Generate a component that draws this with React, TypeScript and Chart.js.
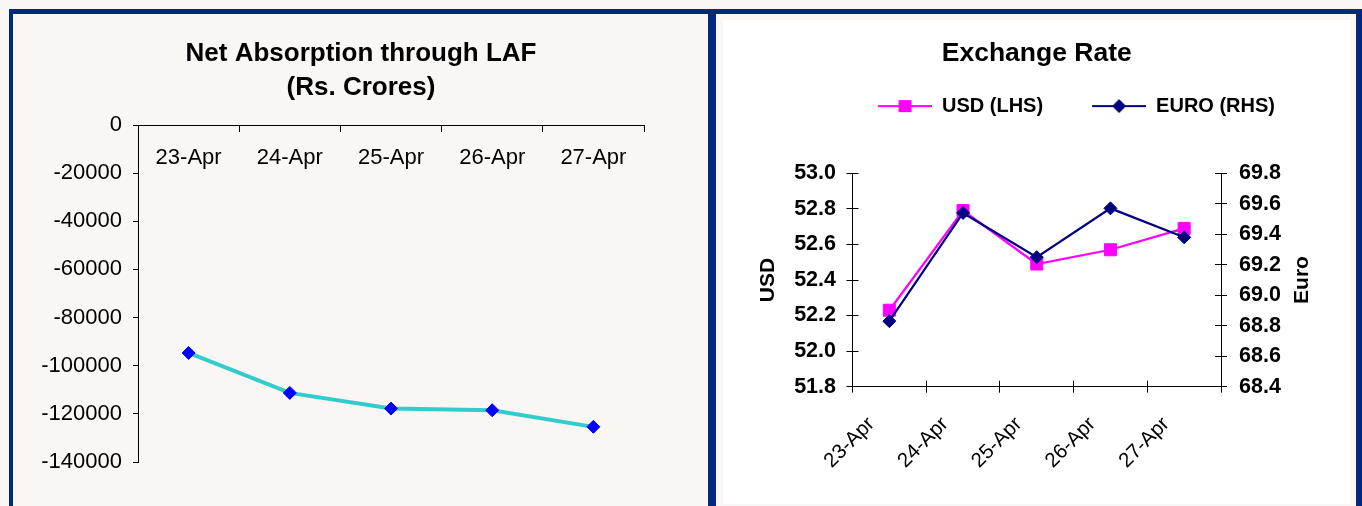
import React, { useEffect, useRef } from 'react';
import { Chart, registerables } from 'chart.js';

Chart.register(...registerables);

// ---------- data ----------
const dates = ['23-Apr', '24-Apr', '25-Apr', '26-Apr', '27-Apr'];
const lafValues = [-94700, -111300, -117800, -118500, -125400];
const lafTicks = [-140000, -120000, -100000, -80000, -60000, -40000, -20000, 0];
const usdValues = [52.23, 52.79, 52.49, 52.57, 52.69];
const euroValues = [68.83, 69.54, 69.25, 69.57, 69.38];
const usdTicks = [51.8, 52.0, 52.2, 52.4, 52.6, 52.8, 53.0];
const euroTicks = [68.4, 68.6, 68.8, 69.0, 69.2, 69.4, 69.6, 69.8];
const lafTitle = ['Net Absorption through LAF', '(Rs. Crores)'];
const fxTitle = 'Exchange Rate';
const usdLabel = 'USD (LHS)';
const euroLabel = 'EURO (RHS)';
const usdAxisTitle = 'USD';
const euroAxisTitle = 'Euro';

// ---------- styles ----------
const FAMILY = "'Liberation Sans', Arial, Helvetica, sans-serif";
const NAVY_FRAME = '#00287c';
const PAGE_BG = '#f9f6f3';
const LAF_LINE = '#33CCCC';
const LAF_MARK = '#0000FF';
const USD_COLOR = '#FF00FF';
const EURO_COLOR = '#000080';

function makeIcon(color: string, marker: 'square' | 'diamond'): HTMLCanvasElement {
  const c = document.createElement('canvas');
  c.width = 93;
  c.height = 16;
  const g = c.getContext('2d')!;
  g.strokeStyle = color;
  g.lineWidth = 2;
  g.beginPath();
  g.moveTo(39, 8);
  g.lineTo(93, 8);
  g.stroke();
  g.fillStyle = color;
  const cx = 66;
  if (marker === 'square') {
    g.fillRect(cx - 6.5, 2, 13, 12);
  } else {
    g.beginPath();
    g.moveTo(cx - 7, 8);
    g.lineTo(cx, 1);
    g.lineTo(cx + 7, 8);
    g.lineTo(cx, 15);
    g.closePath();
    g.fill();
  }
  return c;
}

const overlayPlugin = {
  id: 'overlayTicks',
  afterLayout(chart: any) {
    const a = chart.chartArea;
    const s = chart.scales;
    if (s.yIn) { s.yIn.left = a.left; s.yIn.right = a.left; }
    if (s.y2In) { s.y2In.left = a.right; s.y2In.right = a.right; }
    if (s.xIn) { s.xIn.top = a.bottom; s.xIn.bottom = a.bottom; }
  },
};

const axisTitlesPlugin = {
  id: 'axisTitles',
  afterDraw(chart: any) {
    const { ctx, chartArea: a } = chart;
    const cy = (a.top + a.bottom) / 2;
    const items: [string, number][] = [
      [usdAxisTitle, a.left - 84],
      [euroAxisTitle, a.right + 81.5],
    ];
    ctx.save();
    ctx.font = `bold 21px ${FAMILY}`;
    ctx.fillStyle = '#000';
    ctx.textAlign = 'center';
    ctx.textBaseline = 'middle';
    items.forEach(([t, x]) => {
      ctx.save();
      ctx.translate(x, cy);
      ctx.rotate(-Math.PI / 2);
      ctx.fillText(t, 0, 0);
      ctx.restore();
    });
    ctx.restore();
  },
};

const setTicks = (arr: number[]) => (s: any) => {
  s.ticks = arr.slice().sort((p, q) => p - q).map((v) => ({ value: v }));
};

export default function App() {
  const leftRef = useRef<HTMLCanvasElement>(null);
  const rightRef = useRef<HTMLCanvasElement>(null);

  useEffect(() => {
    Chart.defaults.font.family = FAMILY;
    Chart.defaults.color = '#000';
    const prevMargin = document.body.style.margin;
    document.body.style.margin = '0';

    const left = new Chart(leftRef.current!, {
      type: 'line',
      data: {
        labels: dates,
        datasets: [
          {
            data: lafValues,
            borderColor: LAF_LINE,
            borderWidth: 4,
            tension: 0,
            fill: false,
            pointStyle: 'rectRot',
            pointRadius: 6.5,
            pointBackgroundColor: LAF_MARK,
            pointBorderColor: LAF_MARK,
            pointBorderWidth: 1,
            clip: false as any,
          },
        ],
      },
      options: {
        animation: false,
        responsive: false,
        events: [],
        layout: { padding: { left: 0, right: 0, top: 0, bottom: 44 } },
        plugins: {
          legend: { display: false },
          tooltip: { enabled: false },
          title: {
            display: true,
            text: lafTitle,
            color: '#000',
            font: { family: FAMILY, size: 26, weight: 'bold', lineHeight: 34.3 / 26 },
            padding: { top: 22.5, bottom: 19.9 },
          },
        },
        scales: {
          x: {
            type: 'category',
            position: { y: 0 } as any,
            offset: true,
            afterFit: (s: any) => { s.height = 0; },
            grid: { offset: true, drawOnChartArea: false, drawTicks: true, tickLength: 6, color: '#000' },
            border: { display: true, color: '#000', width: 1 },
            ticks: { color: '#000', font: { family: FAMILY, size: 22 }, padding: 13.5, maxRotation: 0, minRotation: 0, autoSkip: false },
          },
          y: {
            type: 'linear',
            position: 'left',
            min: -140000,
            max: 0,
            afterBuildTicks: setTicks(lafTicks),
            afterFit: (s: any) => { s.width = 124; },
            grid: { drawOnChartArea: false, drawTicks: true, tickLength: 5, color: '#000' },
            border: { display: true, color: '#000', width: 1 },
            ticks: { color: '#000', font: { family: FAMILY, size: 22 }, padding: 11, callback: (v: any) => String(v) },
          },
          yPad: {
            type: 'linear',
            position: 'right',
            display: true,
            min: -140000,
            max: 0,
            afterFit: (s: any) => { s.width = 64; },
            grid: { display: false },
            border: { display: false },
            ticks: { display: false },
          },
        },
      } as any,
    });

    const usdIcon = makeIcon(USD_COLOR, 'square');
    const euroIcon = makeIcon(EURO_COLOR, 'diamond');

    const sharedIn = {
      display: true,
      ticks: { display: false },
      border: { display: false },
    };

    const right = new Chart(rightRef.current!, {
      type: 'line',
      data: {
        labels: dates,
        datasets: [
          {
            label: euroLabel,
            data: euroValues,
            yAxisID: 'y2',
            xAxisID: 'x',
            borderColor: EURO_COLOR,
            borderWidth: 2.25,
            tension: 0,
            fill: false,
            pointStyle: 'rectRot',
            pointRadius: 6.5,
            pointBackgroundColor: EURO_COLOR,
            pointBorderColor: EURO_COLOR,
            pointBorderWidth: 1,
          },
          {
            label: usdLabel,
            data: usdValues,
            yAxisID: 'y',
            xAxisID: 'x',
            borderColor: USD_COLOR,
            borderWidth: 2.25,
            tension: 0,
            fill: false,
            pointStyle: 'rect',
            pointRadius: 8.5,
            pointBackgroundColor: USD_COLOR,
            pointBorderColor: USD_COLOR,
            pointBorderWidth: 1,
          },
        ],
      },
      options: {
        animation: false,
        responsive: false,
        events: [],
        layout: { padding: { left: 40, right: 0, top: 0, bottom: 0 } },
        plugins: {
          tooltip: { enabled: false },
          title: {
            display: true,
            fullSize: false,
            text: fxTitle,
            color: '#000',
            font: { family: FAMILY, size: 26.5, weight: 'bold', lineHeight: 1.2 },
            padding: { top: 17.9, bottom: 16.4 },
          },
          legend: {
            display: true,
            position: 'top',
            fullSize: true,
            labels: {
              usePointStyle: true,
              pointStyleWidth: 93,
              boxHeight: 20,
              padding: 10,
              color: '#000',
              font: { family: FAMILY, size: 20, weight: 'bold' },
              generateLabels: () => [
                { text: usdLabel, pointStyle: usdIcon, fillStyle: USD_COLOR, strokeStyle: USD_COLOR, lineWidth: 0, hidden: false, datasetIndex: 1, fontColor: '#000' },
                { text: euroLabel, pointStyle: euroIcon, fillStyle: EURO_COLOR, strokeStyle: EURO_COLOR, lineWidth: 0, hidden: false, datasetIndex: 0, fontColor: '#000' },
              ],
            },
          },
        },
        scales: {
          x: {
            type: 'category',
            position: 'bottom',
            offset: true,
            afterFit: (s: any) => { s.height = 117.3; },
            grid: { offset: true, drawOnChartArea: false, drawTicks: true, tickLength: 6, color: '#000' },
            border: { display: true, color: '#000', width: 1 },
            ticks: { color: '#000', font: { family: FAMILY, size: 20.5 }, padding: 19.5, labelOffset: -18, minRotation: 45, maxRotation: 45, autoSkip: false },
          },
          xIn: {
            ...sharedIn,
            type: 'category',
            position: 'bottom',
            offset: true,
            afterFit: (s: any) => { s.height = 0; },
            grid: { offset: true, drawOnChartArea: false, drawTicks: true, tickLength: -6, color: '#000' },
          },
          xTop: {
            ...sharedIn,
            type: 'category',
            position: 'top',
            afterFit: (s: any) => { s.height = 47.2; },
            grid: { display: false },
          },
          y: {
            type: 'linear',
            position: 'left',
            min: 51.8,
            max: 53.0,
            afterBuildTicks: setTicks(usdTicks),
            afterFit: (s: any) => { s.width = 89.5; },
            grid: { drawOnChartArea: false, drawTicks: true, tickLength: 6, color: '#000' },
            border: { display: true, color: '#000', width: 1 },
            ticks: { color: '#000', font: { family: FAMILY, size: 21.5, weight: 'bold' }, padding: 10.5, callback: (v: any) => Number(v).toFixed(1) },
          },
          yIn: {
            ...sharedIn,
            type: 'linear',
            position: 'left',
            min: 51.8,
            max: 53.0,
            afterBuildTicks: setTicks(usdTicks),
            afterFit: (s: any) => { s.width = 0; },
            grid: { drawOnChartArea: false, drawTicks: true, tickLength: -6, color: '#000' },
          },
          y2: {
            type: 'linear',
            position: 'right',
            min: 68.4,
            max: 69.8,
            afterBuildTicks: setTicks(euroTicks),
            afterFit: (s: any) => { s.width = 130; },
            grid: { drawOnChartArea: false, drawTicks: true, tickLength: 6, color: '#000' },
            border: { display: true, color: '#000', width: 1 },
            ticks: { color: '#000', font: { family: FAMILY, size: 21.5, weight: 'bold' }, padding: 12, callback: (v: any) => Number(v).toFixed(1) },
          },
          y2In: {
            ...sharedIn,
            type: 'linear',
            position: 'right',
            min: 68.4,
            max: 69.8,
            afterBuildTicks: setTicks(euroTicks),
            afterFit: (s: any) => { s.width = 0; },
            grid: { drawOnChartArea: false, drawTicks: true, tickLength: -6, color: '#000' },
          },
        },
      } as any,
      plugins: [overlayPlugin, axisTitlesPlugin],
    });

    return () => {
      left.destroy();
      right.destroy();
      document.body.style.margin = prevMargin;
    };
  }, []);

  const bar = (l: number, t: number, w: number, h: number): React.CSSProperties => ({
    position: 'absolute', left: l, top: t, width: w, height: h, background: NAVY_FRAME,
  });

  return (
    <div style={{ position: 'fixed', left: 0, top: 0, width: 1362, height: 506, background: PAGE_BG, overflow: 'hidden' }}>
      <div style={bar(9, 9, 1353, 5)} />
      <div style={bar(9, 9, 4, 497)} />
      <div style={bar(708, 9, 8, 497)} />
      <div style={bar(1356, 9, 6, 497)} />
      <canvas ref={leftRef} width={694} height={492} style={{ position: 'absolute', left: 14, top: 14, width: 694, height: 492 }} />
      <div style={{ position: 'absolute', left: 723, top: 20, width: 628, height: 484, background: '#ffffff' }}>
        <canvas ref={rightRef} width={628} height={484} style={{ position: 'absolute', left: 0, top: 0, width: 628, height: 484 }} />
      </div>
    </div>
  );
}
